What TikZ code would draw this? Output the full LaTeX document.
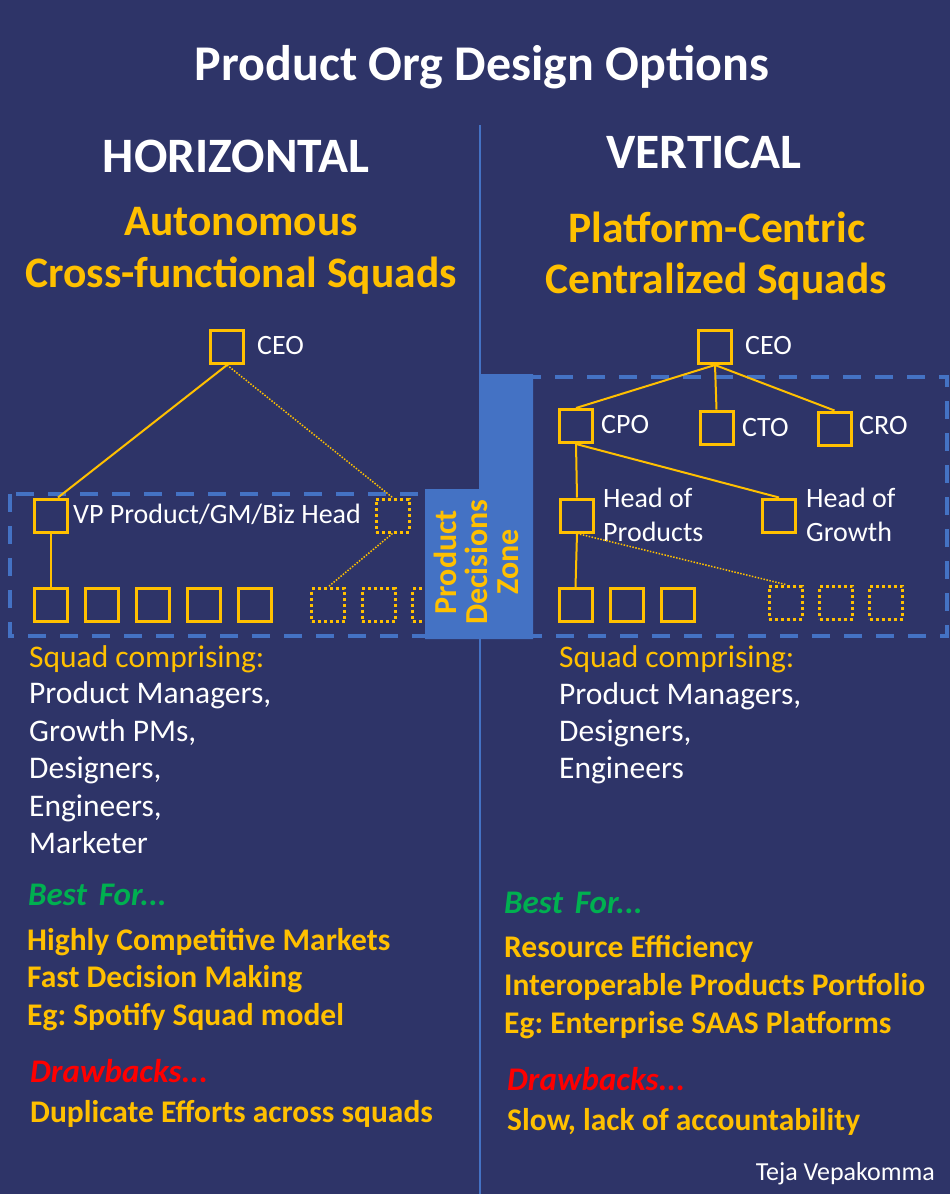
\documentclass[tikz,border=0pt]{standalone}
\usepackage{fontspec}
\setsansfont{Carlito}
\renewcommand{\familydefault}{\sfdefault}
\usetikzlibrary{calc}
\definecolor{bg}{RGB}{46,52,104}
\definecolor{gold}{RGB}{255,192,0}
\definecolor{zoneblue}{RGB}{68,114,196}
\definecolor{bestgreen}{RGB}{0,176,80}
\definecolor{dred}{RGB}{255,0,0}
\frenchspacing
\begin{document}
\begin{tikzpicture}[x=1pt,y=-1pt,
  orgbox/.style={draw=gold, line width=3pt, minimum width=33pt, minimum height=33pt, inner sep=0pt, fill=bg},
  dotbox/.style={orgbox, dash pattern=on 3pt off 3pt},
  link/.style={draw=gold, line width=2pt},
  dotlink/.style={draw=gold, line width=1.5pt, dash pattern=on 1.5pt off 1.5pt},
  zonerect/.style={draw=zoneblue, line width=3.5pt, dash pattern=on 18pt off 14pt},
  txt/.style={inner sep=0pt, anchor=base west},
  lbl/.style={txt, text=white, font=\fontsize{28}{33}\selectfont},
  bigtitle/.style={inner sep=0pt, anchor=base, text=white, font=\bfseries\fontsize{50}{60}\selectfont},
  subtitle/.style={inner sep=0pt, anchor=base, text=gold, font=\bfseries\fontsize{43.5}{52}\selectfont},
  squadhead/.style={txt, text=gold, font=\fontsize{31.5}{37}\selectfont},
  squadline/.style={txt, text=white, font=\fontsize{31.5}{37}\selectfont},
  bestline/.style={txt, text=gold, font=\bfseries\fontsize{31.5}{37}\selectfont},
  besthead/.style={txt, text=bestgreen, font=\bfseries\itshape\fontsize{33}{38}\selectfont},
  drawhead/.style={txt, text=dred, font=\bfseries\itshape\fontsize{33}{38}\selectfont}
]
\path[use as bounding box, fill=bg] (0,0) rectangle (950,1194);

% divider
\draw[zoneblue, line width=1.5pt] (480,125) -- (480,1194);

% titles
\node[bigtitle] (title) at (482,80) {Product Org Design Options};
\node[bigtitle, font=\bfseries\fontsize{49.5}{58}\selectfont] (hor) at (236,172) {HORIZONTAL};
\node[bigtitle, font=\bfseries\fontsize{49.5}{58}\selectfont] (ver) at (704,168) {VERTICAL};
\node[subtitle] (auto) at (241,235) {Autonomous};
\node[subtitle] (cross) at (241,287) {Cross-functional Squads};
\node[subtitle] (plat) at (717,242) {Platform-Centric};
\node[subtitle] (cent) at (716,293) {Centralized Squads};

% dashed decision rectangles
\draw[zonerect] (10,494) rectangle (440,636);
\draw[zonerect] (495,377) rectangle (947,636);

% left org chart
\node[orgbox] (lceo) at (227,347) {};
\node[lbl] (lceot) at (257,354) {CEO};
\node[orgbox] (lvp) at (51,515.5) {};
\node[lbl] (lvpt) at (73,523) {VP Product/GM/Biz Head};
\node[dotbox] (ldv) at (392.5,515.5) {};
\foreach \i/\x in {1/51,2/101.5,3/152.5,4/203.5,5/254.5}
  \node[orgbox] (lb\i) at (\x,605) {};
\foreach \i/\x in {1/328,2/378.5,3/429}
  \node[dotbox] (ld\i) at (\x,605) {};
\draw[link] (lceo.south) -- ($(lvp.north)+(7,0)$);
\draw[dotlink] (lceo.south) -- (ldv.north);
\draw[link] (lvp.south) -- (lb1.north);
\draw[dotlink] (ldv.south) -- (ld1.north);

% right org chart
\node[orgbox] (rceo) at (715,347) {};
\node[lbl] (rceot) at (745,354) {CEO};
\node[orgbox] (cpo) at (576,426) {};
\node[lbl] (cpot) at (601,433) {CPO};
\node[orgbox] (cto) at (716.5,427.5) {};
\node[lbl] (ctot) at (742,436) {CTO};
\node[orgbox] (cro) at (834.5,428.5) {};
\node[lbl] (crot) at (859,434) {CRO};
\node[orgbox] (hop) at (577,515.5) {};
\node[lbl] (hopt1) at (603,507) {Head of};
\node[lbl] (hopt2) at (603,541) {Products};
\node[orgbox] (hog) at (779,515.5) {};
\node[lbl] (hogt1) at (806,507) {Head of};
\node[lbl] (hogt2) at (806,541) {Growth};
\foreach \i/\x in {1/575.5,2/626.5,3/677.5}
  \node[orgbox] (rb\i) at (\x,605) {};
\foreach \i/\x in {1/785.5,2/836,3/886}
  \node[dotbox] (rd\i) at (\x,602.5) {};
\draw[link] (rceo.south) -- (cpo.north);
\draw[link] (rceo.south) -- (cto.north);
\draw[link] (rceo.south) -- (cro.north);
\draw[link] (cpo.south) -- (hop.north);
\draw[link] (cpo.south) -- (hog.north);
\draw[link] (hop.south) -- (rb1.north);
\draw[dotlink] (hop.south) -- (rd1.north);

% product decisions zone
\fill[zoneblue] (425,489) -- (479,489) -- (479,374) -- (533,374) -- (533,639) -- (425,639) -- cycle;
\node[rotate=90, align=center, text=gold, inner sep=0pt, font=\bfseries\fontsize{32}{31}\selectfont] (zonetxt) at (476,562) {Product\\Decisions\\Zone};

% left text
\node[squadhead] (lsq0) at (29,667) {Squad comprising:};
\foreach \i/\y/\t in {1/703/{Product Managers,},2/741/{Growth PMs,},3/778/{Designers,},4/816/{Engineers,},5/853/{Marketer}}
  \node[squadline] (lsq\i) at (29,\y) {\t};
\node[besthead] (lbest) at (28,905) {Best\hspace{12pt}For...};
\node[bestline] (lb1t) at (27,950) {Highly Competitive Markets};
\node[bestline] (lb2t) at (27,987) {Fast Decision Making};
\node[bestline] (lb3t) at (27,1025) {Eg: Spotify Squad model};
\node[drawhead] (ldraw) at (30,1082) {Drawbacks...};
\node[bestline] (ldr1) at (30,1122) {Duplicate Efforts across squads};

% right text
\node[squadhead] (rsq0) at (559,667) {Squad comprising:};
\foreach \i/\y/\t in {1/704/{Product Managers,},2/741/{Designers,},3/778/{Engineers}}
  \node[squadline] (rsq\i) at (559,\y) {\t};
\node[besthead] (rbest) at (504,913) {Best\hspace{12pt}For...};
\node[bestline] (rb1t) at (504,957) {Resource Efficiency};
\node[bestline] (rb2t) at (504,995) {Interoperable Products Portfolio};
\node[bestline] (rb3t) at (504,1033) {Eg: Enterprise SAAS Platforms};
\node[drawhead] (rdraw) at (507,1090) {Drawbacks...};
\node[bestline] (rdr1) at (507,1130) {Slow, lack of accountability};

\node[inner sep=0pt, anchor=base east, text=white, font=\fontsize{26}{31}\selectfont] (author) at (935,1180) {Teja Vepakomma};
\end{tikzpicture}
\end{document}
